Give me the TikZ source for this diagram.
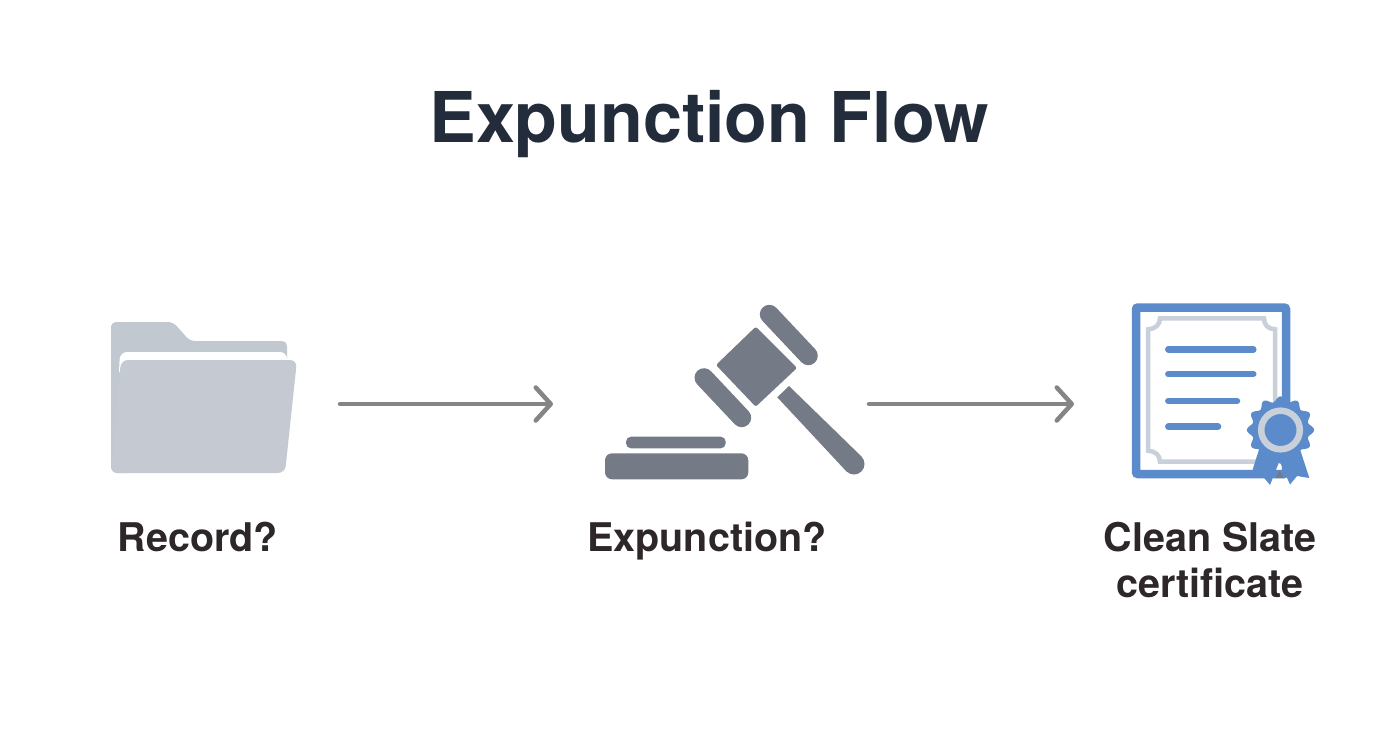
\documentclass[tikz,border=0pt]{standalone}
\usepackage{fontspec}
\setmainfont{TeX Gyre Heros}
\usepackage{xcolor}
\usetikzlibrary{arrows.meta}
\definecolor{titleink}{HTML}{222C3A}
\definecolor{labelink}{HTML}{2E2729}
\definecolor{folderback}{HTML}{C2C8CF}
\definecolor{folderfront}{HTML}{C5CAD2}
\definecolor{gavelgrey}{HTML}{747B86}
\definecolor{arrowgrey}{HTML}{858585}
\definecolor{certblue}{HTML}{5C8BCB}
\definecolor{certgrey}{HTML}{C9D0D9}
\tikzset{
  iconbox/.style={minimum height=180pt,inner sep=0pt,outer sep=0pt},
  flowarrow/.style={arrowgrey,line width=4.5pt,line cap=round,line join=round,
    -{Straight Barb[length=15pt,width=33pt,round]}},
  steplabel/.style={labelink,anchor=base,font=\fontsize{39.5}{46}\selectfont\bfseries,align=center,inner sep=0pt},
  gavelbar/.style={gavelgrey,line width=19pt,line cap=round},
  certline/.style={certblue,line width=6.5pt,line cap=round}
}
\begin{document}
\begin{tikzpicture}[x=1pt,y=-1pt]
\useasboundingbox[fill=white] (0,0) rectangle (1392,752);

%title and the labels
\node (flowtitle) at (709,142) [titleink,anchor=base,inner sep=0pt,font=\fontsize{70}{78}\selectfont\bfseries] {Expunction Flow};
\node (recordlabel) at (198,551) [steplabel] {Record?};
\node (expunctionlabel) at (707,551) [steplabel] {Expunction?};
\node (slatelabel) at (1210,597) [steplabel] {Clean Slate\\certificate};

%invisible boxes round the three icons, the arrows run between them
\node (foldericon) at (204,404) [iconbox,minimum width=272pt] {};
\node (gavelicon) at (711,404) [iconbox,minimum width=316pt] {};
\node (certicon) at (1212,404) [iconbox,minimum width=276pt] {};
\draw[flowarrow] (foldericon.east) -- (gavelicon.west);
\draw[flowarrow] (gavelicon.east) -- (certicon.west);

%folder
\fill[folderback,rounded corners=5pt] (111,322) -- (173,322) -- (190,341)
   -- (287,341) -- (287,370) -- (111,370) -- cycle;
\fill[folderback,rounded corners=6pt] (111,322) -- (111,473) -- (135,473) -- (135,322) -- cycle;
\fill[white,rounded corners=7pt] (119,372) -- (120,352) -- (287,352) [sharp corners] -- (287,372) -- cycle;
\fill[folderfront,rounded corners=7pt] (121,360) -- (297,360) -- (285,473) -- (111,473) -- cycle;

%gavel
\fill[gavelgrey,rounded corners=2pt] (755.7,326.7) -- (797,368) -- (755.7,406.7) -- (716,365) -- cycle;
\draw[gavelbar] (769.3,314.3) -- (808.3,355.7);
\draw[gavelbar] (704,377.7) -- (741.7,417.7);
\fill[gavelgrey] (777.3,397.3) -- (789,386) -- (861.5,456.5) -- (846.5,471.5) -- cycle;
\fill[gavelgrey] (854,464) circle (10.5pt);
\fill[gavelgrey,rounded corners=5pt] (626,436.7) rectangle (725.7,448.3);
\fill[gavelgrey,rounded corners=7pt] (605,453.3) rectangle (748.3,479.3);

%certificate
\draw[certblue,line width=8.5pt,rounded corners=2pt] (1136,307.5) rectangle (1286,474);
\draw[certgrey,line width=4.5pt] (1160,318.3) -- (1264,318.3)
   .. controls (1264,325) and (1268,329) .. (1275,329.3) -- (1275,450.7)
   .. controls (1268,451) and (1264,455) .. (1264,461.7) -- (1160,461.7)
   .. controls (1160,455) and (1155,451) .. (1148,450.7) -- (1148,329.3)
   .. controls (1155,329) and (1160,325) .. (1160,318.3) -- cycle;
\draw[certline] (1168.3,349.3) -- (1253.3,349.3);
\draw[certline] (1168.3,374) -- (1253.3,374);
\draw[certline] (1168.3,401) -- (1237,401);
\draw[certline] (1168.3,426.7) -- (1218,426.7);

%ribbon and seal
\fill[gavelgrey] (1279.5,470) -- (1283.5,478) -- (1275.5,478) -- cycle;
\fill[certblue] (1262,440) -- (1250,478) -- (1261.7,475) -- (1270,485) -- (1279.5,461) -- (1290,484.5)
   -- (1297,476) -- (1309.3,478) -- (1297,440) -- cycle;
\fill[certblue,smooth,samples=145,domain=0:360]
   plot ({1280.5+(31+2.6*cos(12*\x))*cos(\x)},{430+(31+2.6*cos(12*\x))*sin(\x)}) -- cycle;
\draw[certgrey,line width=6.5pt] (1280.5,430) circle (19.3pt);
\end{tikzpicture}
\end{document}
